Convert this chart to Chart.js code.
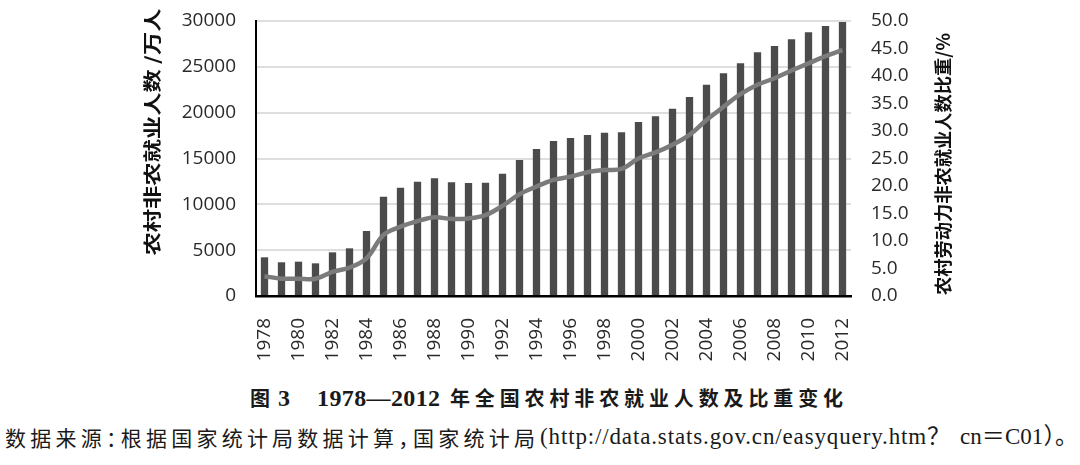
<!DOCTYPE html>
<html>
<head>
<meta charset="utf-8">
<script src="https://cdn.jsdelivr.net/npm/chart.js@4"></script>
<style>
  html, body { margin: 0; padding: 0; background: #ffffff; }
  body { width: 1080px; height: 465px; position: relative; overflow: hidden; }
  #wrap { position: absolute; left: 0; top: 0; width: 1080px; height: 375px; }
  .t { position: absolute; white-space: nowrap; color: #1a1a1a; transform-origin: 0 50%; }
  .cj { font-family: "Noto Sans CJK SC", sans-serif; font-feature-settings: "halt"; }
  .se { font-family: "Liberation Serif", "Noto Sans CJK SC", serif; }
</style>
</head>
<body>
<div id="wrap"><canvas id="c" width="1080" height="375"></canvas></div>
<div id="cap1" class="t cj" style="font-size:20px;font-weight:700;line-height:24px;top:386px;">图</div>
<div id="cap2" class="t se" style="font-size:24px;font-weight:700;line-height:24px;top:386px;">3</div>
<div id="cap3" class="t se" style="font-size:24px;font-weight:700;line-height:24px;top:386px;">1978—2012</div>
<div id="cap4" class="t cj" style="font-size:20px;font-weight:700;line-height:24px;top:386px;">年全国农村非农就业人数及比重变化</div>
<div id="src1" class="t cj" style="font-size:21px;font-weight:400;line-height:22px;top:426px;">数据来源：根据国家统计局数据计算，国家统计局</div>
<div id="src2" class="t se" style="font-size:23px;font-weight:400;line-height:22px;top:426px;">(http://data.stats.gov.cn/easyquery.htm？</div>
<div id="src3" class="t se" style="font-size:23px;font-weight:400;line-height:22px;top:426px;">cn＝C01）。</div>
<script>
const years = ['1978','1979','1980','1981','1982','1983','1984','1985','1986','1987','1988','1989','1990','1991','1992','1993','1994','1995','1996','1997','1998','1999','2000','2001','2002','2003','2004','2005','2006','2007','2008','2009','2010','2011','2012'];
const employment = [4220,3676,3745,3564,4764,5200,7090,10836,11818,12473,12836,12400,12327,12364,13345,14836,16036,16909,17236,17564,17818,17855,18982,19600,20436,21709,23055,24291,25382,26582,27273,28000,28764,29455,29891];
const share = [3.6,3.15,3.15,3.15,4.4,5.15,6.85,11.1,12.6,13.6,14.3,14.0,14.1,14.7,16.4,18.5,19.9,21.1,21.7,22.5,22.9,23.1,25.0,26.1,27.5,29.3,32.0,34.4,36.7,38.4,39.6,41.0,42.3,43.6,44.7];
const leftTitle = '农村非农就业人数 /万人';
const rightTitle = '农村劳动力非农就业人数比重/%';

Chart.defaults.font.family = "'Open Sans', sans-serif";
Chart.defaults.color = '#2a2a2a';

function drawFitText(ctx, text, cx, cy, len, font) {
  ctx.save();
  ctx.font = font;
  ctx.fillStyle = '#111';
  ctx.textAlign = 'center';
  ctx.textBaseline = 'middle';
  ctx.translate(cx, cy);
  ctx.rotate(-Math.PI / 2);
  const w = ctx.measureText(text).width;
  ctx.scale(len / w, 1);
  ctx.fillText(text, 0, 0);
  ctx.restore();
}

const titlesPlugin = {
  id: 'titles',
  afterDraw(chart) {
    const ctx = chart.ctx;
    drawFitText(ctx, leftTitle, 152, 132, 247, "700 18px 'Noto Sans CJK SC'");
    drawFitText(ctx, rightTitle, 943, 164, 262, "700 18px 'Noto Sans CJK SC'");
  }
};

new Chart(document.getElementById('c'), {
  data: {
    labels: years,
    datasets: [
      {
        type: 'line', label: '比重', data: share, yAxisID: 'y1', order: 0,
        borderColor: '#7b7b7b', borderWidth: 4.5, pointRadius: 0, tension: 0.35,
        fill: false
      },
      {
        type: 'bar', label: '人数', data: employment, yAxisID: 'y', order: 1,
        backgroundColor: '#4b4b4b', categoryPercentage: 1.0, barPercentage: 0.43
      }
    ]
  },
  options: {
    responsive: false,
    animation: false,
    layout: { padding: { top: 21, left: 0, right: 0, bottom: 0 } },
    plugins: { legend: { display: false }, tooltip: { enabled: false } },
    scales: {
      x: {
        grid: { display: false, drawTicks: false },
        border: { color: '#000', width: 2.5 },
        ticks: {
          autoSkip: false, minRotation: 90, maxRotation: 90, padding: 22,
          font: { size: 19 }, color: '#2a2a2a',
          callback: (v, i) => (i % 2 === 0 ? years[i] : '')
        },
        afterFit: s => { s.height = 79; s.paddingLeft = 0; s.paddingRight = 0; }
      },
      y: {
        position: 'left', min: 0, max: 30000,
        grid: { color: '#dedede', lineWidth: 2, drawTicks: false },
        border: { color: '#000', width: 2 },
        ticks: { stepSize: 5000, padding: 20, font: { size: 19 }, color: '#2a2a2a',
          callback: v => String(v) },
        afterFit: s => { s.width = 256; s.paddingTop = 10; s.paddingBottom = 10; }
      },
      y1: {
        position: 'right', min: 0, max: 50,
        grid: { drawOnChartArea: false, drawTicks: false },
        border: { display: false },
        ticks: { stepSize: 5, padding: 20, font: { size: 19 }, color: '#2a2a2a',
          callback: v => Number(v).toFixed(1) },
        afterFit: s => { s.width = 229; s.paddingTop = 10; s.paddingBottom = 10; }
      }
    }
  },
  plugins: [titlesPlugin]
});

function place(id, left, width) {
  const el = document.getElementById(id);
  el.style.left = left + 'px';
  const n = [...el.textContent].length;
  const w = el.getBoundingClientRect().width;
  if (w < width) {
    el.style.letterSpacing = ((width - w) / Math.max(1, n - 1)) + 'px';
  } else {
    el.style.transform = 'scaleX(' + (width / w) + ')';
  }
}
place('cap1', 250, 21);
place('cap2', 278, 12);
place('cap3', 317, 123);
place('cap4', 450, 393);
place('src1', 5, 530);
place('src2', 540, 410);
place('src3', 960, 118);
</script>
</body>
</html>
